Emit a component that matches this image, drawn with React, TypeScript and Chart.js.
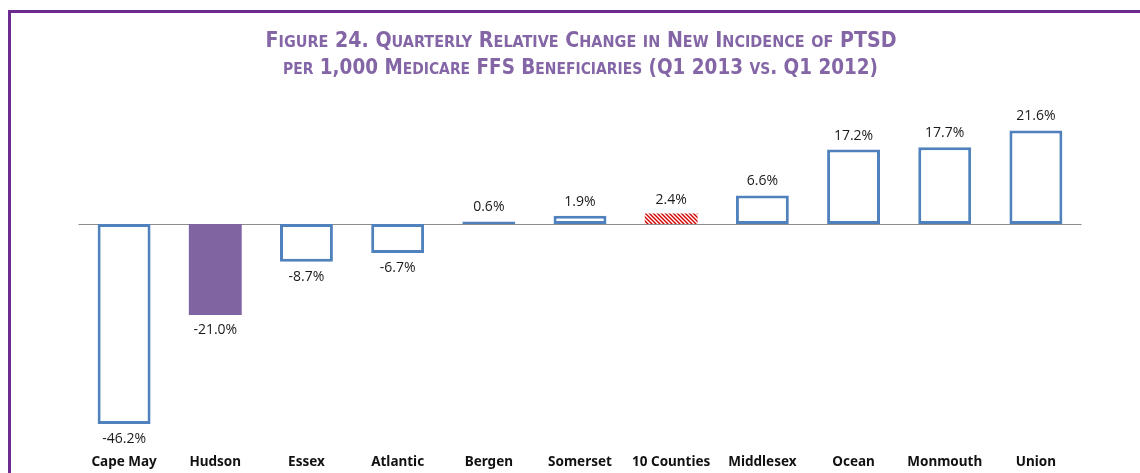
import React, { useEffect, useRef } from "react";
import { Chart, registerables } from "chart.js";

Chart.register(...registerables);

const categories = ["Cape May", "Hudson", "Essex", "Atlantic", "Bergen", "Somerset", "10 Counties", "Middlesex", "Ocean", "Monmouth", "Union"];
const values = [-46.2, -21.0, -8.7, -6.7, 0.6, 1.9, 2.4, 6.6, 17.2, 17.7, 21.6];
const titleLines = [
  "Figure 24. Quarterly Relative Change in New Incidence of PTSD",
  "per 1,000 Medicare FFS Beneficiaries (Q1 2013 vs. Q1 2012)",
];

const BLUE = "#4f81bd";
const PURPLE = "#8064a2";
const TITLE_COLOR = "#8466a6";
const FRAME = "#6e2b8f";

function makeHatch(): CanvasPattern | string {
  const c = document.createElement("canvas");
  c.width = 4;
  c.height = 4;
  const x = c.getContext("2d");
  if (!x) return "#c00000";
  x.fillStyle = "#ffffff";
  x.fillRect(0, 0, 4, 4);
  x.strokeStyle = "#d00000";
  x.lineWidth = 1.4;
  x.beginPath();
  x.moveTo(-1, -1);
  x.lineTo(5, 5);
  x.moveTo(-1, 3);
  x.lineTo(1, 5);
  x.moveTo(3, -1);
  x.lineTo(5, 1);
  x.stroke();
  return x.createPattern(c, "repeat") || "#c00000";
}

function drawSmallCaps(ctx: CanvasRenderingContext2D, text: string, cx: number, y: number, big: number, small: number, family: string, fitWidth: number) {
  const runs: { t: string; s: number }[] = [];
  for (const ch of text) {
    const lower = ch !== ch.toUpperCase();
    const s = lower ? small : big;
    const t = lower ? ch.toUpperCase() : ch;
    const last = runs[runs.length - 1];
    if (last && last.s === s) last.t += t;
    else runs.push({ t, s });
  }
  let total = 0;
  const widths: number[] = [];
  for (const r of runs) {
    ctx.font = `bold ${r.s}px ${family}`;
    const w = ctx.measureText(r.t).width;
    widths.push(w);
    total += w;
  }
  const k = fitWidth / total;
  ctx.save();
  ctx.translate(cx - fitWidth / 2, y);
  ctx.scale(k, 1);
  let x = 0;
  ctx.textAlign = "left";
  ctx.textBaseline = "alphabetic";
  runs.forEach((r, i) => {
    ctx.font = `bold ${r.s}px ${family}`;
    ctx.fillText(r.t, x, 0);
    x += widths[i];
  });
  ctx.restore();
}

const decorPlugin = {
  id: "decor",
  beforeDatasetsDraw(chart: any) {
    const { ctx, chartArea, scales } = chart;
    const y0 = Math.round(scales.y.getPixelForValue(0)) + 0.5;
    ctx.save();
    ctx.strokeStyle = "#8c8c8c";
    ctx.lineWidth = 1;
    ctx.beginPath();
    ctx.moveTo(chartArea.left, y0);
    ctx.lineTo(chartArea.right, y0);
    ctx.stroke();
    ctx.restore();
  },
  afterDatasetsDraw(chart: any) {
    const { ctx } = chart;
    const meta = chart.getDatasetMeta(0);
    ctx.save();
    ctx.fillStyle = "#1a1a1a";
    ctx.font = "14px 'Open Sans'";
    ctx.textAlign = "center";
    ctx.textBaseline = "middle";
    meta.data.forEach((bar: any, i: number) => {
      const v = values[i];
      const y = v >= 0 ? bar.y - 14 : bar.y + 15;
      ctx.fillText(v.toFixed(1) + "%", bar.x, y);
    });
    ctx.fillStyle = TITLE_COLOR;
    const fam = "'DejaVu Sans Condensed', 'DejaVu Sans', sans-serif";
    drawSmallCaps(ctx, titleLines[0], 581, 47, 20.5, 15.5, fam, 631);
    drawSmallCaps(ctx, titleLines[1], 580.5, 74, 20.5, 15.5, fam, 595);
    ctx.restore();
  },
};

export default function App() {
  const ref = useRef<HTMLCanvasElement | null>(null);
  useEffect(() => {
    if (!ref.current) return;
    const hatch = makeHatch();
    const bg = values.map((v, i) => (i === 1 ? PURPLE : i === 6 ? hatch : i === 4 ? BLUE : "#ffffff"));
    const bc = values.map((v, i) => (i === 1 || i === 6 ? "rgba(0,0,0,0)" : BLUE));
    const bw = values.map((v, i) => (i === 1 || i === 6 ? 0 : 3));
    const chart = new Chart(ref.current, {
      type: "bar",
      data: {
        labels: categories,
        datasets: [
          {
            data: values,
            backgroundColor: bg as any,
            borderColor: bc,
            borderWidth: bw,
            borderSkipped: false,
            categoryPercentage: 1,
            barPercentage: 0.58,
          },
        ],
      },
      options: {
        animation: false,
        responsive: false,
        maintainAspectRatio: false,
        layout: { padding: { left: 78.5, right: 58.5, top: 115.75, bottom: 0 } },
        plugins: { legend: { display: false }, title: { display: false }, tooltip: { enabled: false } },
        scales: {
          x: {
            grid: { display: false },
            border: { display: false },
            ticks: {
              color: "#111111",
              font: { family: "'Noto Sans'", weight: "bold", size: 13.5 },
              padding: 6,
              maxRotation: 0,
              autoSkip: false,
            },
            afterFit(scale: any) {
              scale.height = 32.5;
            },
          },
          y: {
            display: false,
            min: -50,
            max: 25,
          },
        },
      },
      plugins: [decorPlugin],
    });
    return () => chart.destroy();
  }, []);
  return (
    <>
      <div
        style={{
          position: "absolute",
          left: 8,
          top: 10,
          right: 0,
          bottom: 0,
          height: 463,
          borderTop: `3px solid ${FRAME}`,
          borderLeft: `3px solid ${FRAME}`,
        }}
      />
      <canvas
        ref={ref}
        width={1140}
        height={473}
        style={{ position: "absolute", left: 0, top: 0, width: 1140, height: 473 }}
      />
    </>
  );
}
